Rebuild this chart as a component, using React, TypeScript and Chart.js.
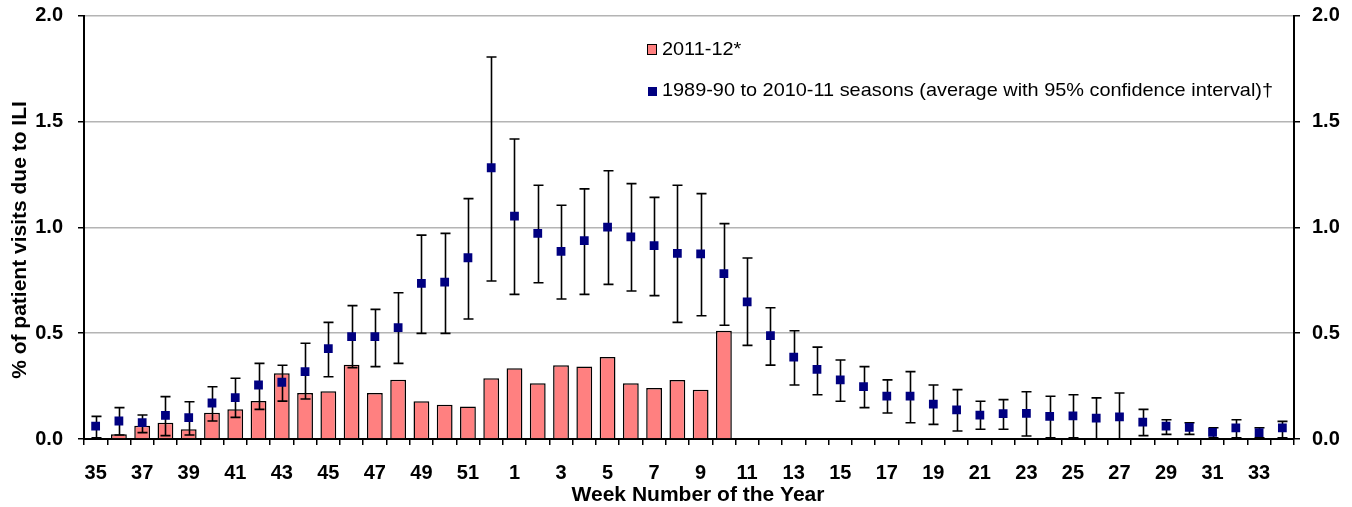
import React, { useEffect, useRef } from 'react';
import { Chart, registerables } from 'chart.js';

Chart.register(...registerables);

const weeks = [
  '35', '36', '37', '38', '39', '40', '41', '42', '43', '44', '45', '46', '47', '48', '49', '50', '51', '52',
  '1', '2', '3', '4', '5', '6', '7', '8', '9', '10', '11', '12', '13', '14', '15', '16', '17', '18',
  '19', '20', '21', '22', '23', '24', '25', '26', '27', '28', '29', '30', '31', '32', '33', '34',
];

const season2011 = [
  null, 0.022, 0.063, 0.077, 0.046, 0.124, 0.14, 0.179, 0.31, 0.217, 0.225, 0.351, 0.217, 0.28, 0.178, 0.162, 0.154, 0.287,
  0.334, 0.263, 0.348, 0.342, 0.387, 0.263, 0.241, 0.279, 0.233, 0.511, null, null, null, null, null, null, null, null,
  null, null, null, null, null, null, null, null, null, null, null, null, null, null, null, null,
];

const avgValues = [
  0.061, 0.085, 0.077, 0.112, 0.101, 0.17, 0.195, 0.255, 0.268, 0.318, 0.427, 0.483, 0.483, 0.526, 0.735, 0.741, 0.856, 1.281,
  1.052, 0.971, 0.886, 0.937, 1.001, 0.955, 0.913, 0.877, 0.874, 0.781, 0.648, 0.488, 0.387, 0.329, 0.279, 0.247, 0.202, 0.202,
  0.165, 0.138, 0.113, 0.12, 0.121, 0.107, 0.109, 0.099, 0.104, 0.08, 0.061, 0.055, 0.031, 0.053, 0.03, 0.053,
];

const ciUpper = [
  0.107, 0.148, 0.113, 0.2, 0.176, 0.247, 0.287, 0.357, 0.348, 0.452, 0.551, 0.63, 0.612, 0.691, 0.963, 0.971, 1.135, 1.804,
  1.417, 1.198, 1.104, 1.181, 1.267, 1.206, 1.141, 1.198, 1.159, 1.017, 0.855, 0.62, 0.511, 0.434, 0.373, 0.342, 0.279, 0.318,
  0.255, 0.233, 0.178, 0.186, 0.223, 0.202, 0.209, 0.194, 0.217, 0.14, 0.091, 0.077, 0.053, 0.091, 0.053, 0.083,
];

const ciLower = [
  0.006, 0.019, 0.03, 0.016, 0.019, 0.085, 0.102, 0.14, 0.179, 0.189, 0.294, 0.337, 0.342, 0.357, 0.499, 0.499, 0.567, 0.746,
  0.683, 0.738, 0.661, 0.683, 0.73, 0.699, 0.677, 0.551, 0.582, 0.537, 0.442, 0.349, 0.255, 0.209, 0.178, 0.148, 0.123, 0.077,
  0.069, 0.038, 0.046, 0.046, 0.014, 0.006, 0.006, 0.0, 0.0, 0.016, 0.022, 0.022, 0.006, 0.006, 0.006, 0.006,
];

const seriesLabels = ['2011-12*', '1989-90 to 2010-11 seasons (average with 95% confidence interval)\u2020'];
const xTitle = 'Week Number of the Year';
const yTitle = '% of patient visits due to ILI';

const FONT = 'Arial, "Liberation Sans", sans-serif';
const BAR_COLOR = '#FF8080';
const MARKER_COLOR = '#000080';

const errorBarPlugin = {
  id: 'errorBars',
  beforeDatasetDraw(chart: any, args: any) {
    if (args.index !== 1) return;
    const { ctx } = chart;
    const xs = chart.scales.x;
    const ys = chart.scales.y;
    ctx.save();
    ctx.strokeStyle = '#000';
    ctx.lineWidth = 1.6;
    weeks.forEach((_, i) => {
      const x = Math.round(xs.getPixelForValue(i)) + 0.5;
      const yTop = ys.getPixelForValue(ciUpper[i]);
      const yBot = ys.getPixelForValue(ciLower[i]);
      ctx.beginPath();
      ctx.moveTo(x, yTop);
      ctx.lineTo(x, yBot);
      ctx.moveTo(x - 5, yTop);
      ctx.lineTo(x + 5, yTop);
      ctx.moveTo(x - 5, yBot);
      ctx.lineTo(x + 5, yBot);
      ctx.stroke();
    });
    ctx.restore();
  },
};

const decorPlugin = {
  id: 'decor',
  afterDraw(chart: any) {
    const { ctx } = chart;
    ctx.save();
    // legend
    ctx.font = `19px ${FONT}`;
    ctx.textBaseline = 'middle';
    ctx.textAlign = 'left';
    const w1 = ctx.measureText(seriesLabels[1]).width;
    const sx = 611 / w1;

    ctx.fillStyle = BAR_COLOR;
    ctx.fillRect(647, 44, 10, 11);
    ctx.strokeStyle = '#000';
    ctx.lineWidth = 1;
    ctx.strokeRect(647.5, 44.5, 9, 10);

    ctx.fillStyle = MARKER_COLOR;
    ctx.fillRect(648, 87, 9, 9);

    ctx.fillStyle = '#000';
    ctx.save();
    ctx.translate(662, 50);
    ctx.scale(sx, 1);
    ctx.fillText(seriesLabels[0], 0, 0);
    ctx.restore();
    ctx.save();
    ctx.translate(662, 90.5);
    ctx.scale(sx, 1);
    ctx.fillText(seriesLabels[1], 0, 0);
    ctx.restore();

    // axis titles
    ctx.font = `bold 21px ${FONT}`;
    ctx.textAlign = 'center';
    ctx.textBaseline = 'middle';
    ctx.fillText(xTitle, 698, 495);
    ctx.save();
    ctx.translate(20, 240);
    ctx.rotate(-Math.PI / 2);
    ctx.fillText(yTitle, 0, 0);
    ctx.restore();
    ctx.restore();
  },
};

export default function App() {
  const ref = useRef<HTMLCanvasElement | null>(null);

  useEffect(() => {
    document.body.style.margin = '0';
    const canvas = ref.current;
    if (!canvas) return;
    const tickFont = { family: FONT, size: 20, weight: 'bold' as const };
    const chart = new Chart(canvas, {
      type: 'bar',
      data: {
        labels: weeks,
        datasets: [
          {
            type: 'bar',
            label: seriesLabels[0],
            data: season2011 as any,
            backgroundColor: BAR_COLOR,
            borderColor: '#000',
            borderWidth: 1.5,
            barPercentage: 0.68,
            categoryPercentage: 1,
            order: 2,
            yAxisID: 'y',
          },
          {
            type: 'line',
            label: seriesLabels[1],
            data: avgValues,
            showLine: false,
            pointStyle: 'rect',
            pointRadius: 6.2,
            pointBorderWidth: 0,
            pointBackgroundColor: MARKER_COLOR,
            borderColor: MARKER_COLOR,
            backgroundColor: MARKER_COLOR,
            order: 1,
            yAxisID: 'y',
          } as any,
        ],
      },
      options: {
        responsive: false,
        devicePixelRatio: 1,
        animation: false,
        events: [],
        layout: { padding: { top: 15.5, left: 0, right: 0, bottom: 0 } },
        plugins: {
          legend: { display: false },
          tooltip: { enabled: false },
          title: { display: false },
        },
        scales: {
          x: {
            type: 'category',
            offset: true,
            grid: {
              offset: true,
              drawOnChartArea: false,
              drawTicks: true,
              tickLength: 6,
              color: '#000',
              lineWidth: 1.5,
            },
            border: { display: true, color: '#000', width: 2 },
            ticks: {
              autoSkip: false,
              maxRotation: 0,
              minRotation: 0,
              padding: 16,
              color: '#000',
              font: tickFont,
              callback: (_v: any, i: number) => (i % 2 === 0 ? weeks[i] : ''),
            },
            afterFit: (s: any) => {
              s.height = 68;
              s.paddingLeft = 0;
              s.paddingRight = 0;
            },
          },
          y: {
            position: 'left',
            min: 0,
            max: 2,
            grid: {
              color: '#b4b4b4',
              lineWidth: 1.5,
              tickColor: '#000',
              tickLength: 6,
              drawTicks: true,
            },
            border: { display: true, color: '#000', width: 2 },
            ticks: {
              stepSize: 0.5,
              padding: 15,
              color: '#000',
              font: tickFont,
              callback: (v: any) => Number(v).toFixed(1),
            },
            afterFit: (s: any) => {
              s.width = 84;
              s.paddingTop = 0;
              s.paddingBottom = 0;
            },
          },
          y2: {
            position: 'right',
            min: 0,
            max: 2,
            grid: {
              drawOnChartArea: false,
              color: '#000',
              tickColor: '#000',
              lineWidth: 1.5,
              tickLength: 6,
            },
            border: { display: true, color: '#000', width: 2 },
            ticks: {
              stepSize: 0.5,
              padding: 12,
              color: '#000',
              font: tickFont,
              callback: (v: any) => Number(v).toFixed(1),
            },
            afterFit: (s: any) => {
              s.width = 58;
              s.paddingTop = 0;
              s.paddingBottom = 0;
            },
          },
        },
      },
      plugins: [errorBarPlugin, decorPlugin],
    });
    return () => chart.destroy();
  }, []);

  return (
    <div style={{ width: 1352, height: 507 }}>
      <canvas ref={ref} width={1352} height={507} style={{ display: 'block' }} />
    </div>
  );
}
